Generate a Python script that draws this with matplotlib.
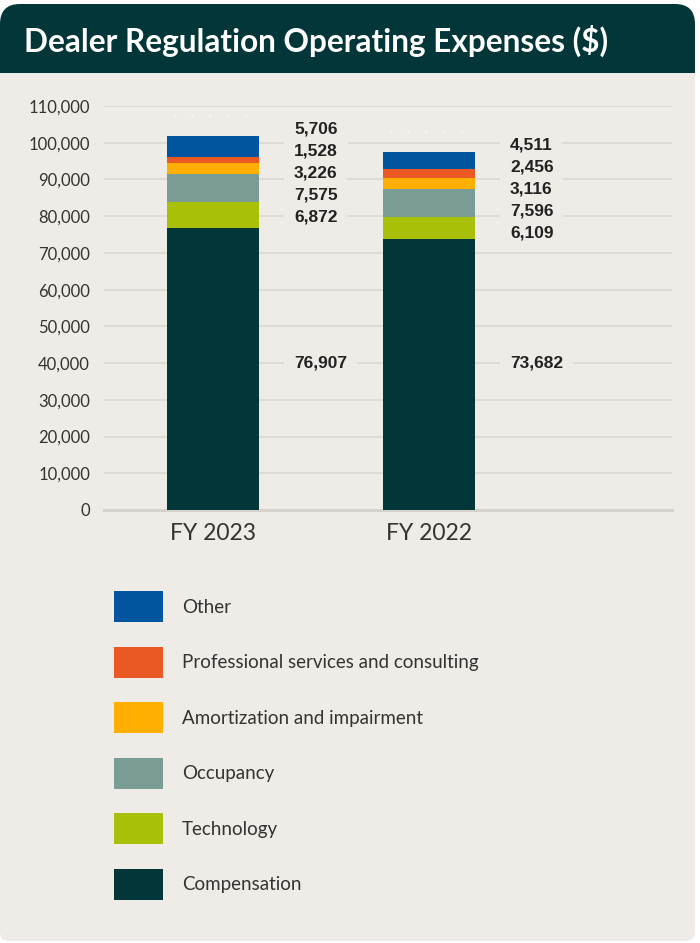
import matplotlib.pyplot as plt
import numpy as np
from matplotlib.patches import FancyBboxPatch, Rectangle, Patch
from matplotlib.ticker import FuncFormatter

# expense categories, bottom of the stack first
categories = ["Compensation", "Technology", "Occupancy",
              "Amortization and impairment", "Professional services and consulting", "Other"]
colors = ["#023638", "#A8C108", "#7A9E96", "#FFAF00", "#EA5823", "#00559E"]

years = ["FY 2023", "FY 2022"]
fy2023 = [76907, 6872, 7575, 3226, 1528, 5706]
fy2022 = [73682, 6109, 7596, 3116, 2456, 4511]

yticks = np.arange(0, 110001, 10000)

BG = "#EFECE7"
DARK = "#023638"
TXT = "#333333"
W, H = 700, 943

fig = plt.figure(figsize=(W / 100, H / 100), dpi=100, facecolor="white")

def px(x, y):
    # pixel position (from top-left) -> inches for dpi_scale_trans
    return x / 100, (H - y) / 100

# card: dark header with rounded top, light body with rounded bottom
x0, y0 = px(0, 120)
fig.patches.append(FancyBboxPatch((x0, y0), 6.95, (120 - 4) / 100,
                                  boxstyle="round,pad=0,rounding_size=0.2",
                                  transform=fig.dpi_scale_trans, fc=DARK, ec="none", zorder=-3))
x0, y0 = px(0, 941)
fig.patches.append(FancyBboxPatch((x0, y0), 6.95, (941 - 90) / 100,
                                  boxstyle="round,pad=0,rounding_size=0.09",
                                  transform=fig.dpi_scale_trans, fc=BG, ec="none", zorder=-2))
x0, y0 = px(0, 110)
fig.patches.append(Rectangle((x0, y0), 6.95, (110 - 73) / 100,
                             transform=fig.dpi_scale_trans, fc=BG, ec="none", zorder=-1))

fig.text(24 / W, 1 - 41 / H, "Dealer Regulation Operating Expenses ($)",
         color="white", fontsize=22.7, fontweight="bold", family="Lato",
         ha="left", va="center")

ax = fig.add_axes([104 / W, 1 - 510 / H, 568 / W, 404 / H])
ax.set_facecolor("none")
ax.set_xlim(-0.505, 2.125)
ax.set_ylim(0, 110000)
for s in ax.spines.values():
    s.set_visible(False)

ax.set_yticks(yticks)
ax.yaxis.set_major_formatter(FuncFormatter(lambda v, p: f"{int(v):,}"))
ax.grid(axis="y", color="#DDD9D3", lw=1.3, zorder=0)
ax.set_axisbelow(True)
ax.axhline(0, color="#D5D1CB", lw=2.2, zorder=1, clip_on=False)
ax.tick_params(length=0)
ax.tick_params(axis="y", pad=10, labelsize=12, labelcolor=TXT)
ax.tick_params(axis="x", pad=9, labelsize=16.5, labelcolor=TXT)

xpos = np.arange(len(years))
data = np.array([fy2023, fy2022])
bottoms = np.zeros(len(years))
for i, cat in enumerate(categories):
    ax.bar(xpos, data[:, i], 0.426, bottom=bottoms, color=colors[i], zorder=2)
    bottoms += data[:, i]
ax.set_xticks(xpos)
ax.set_xticklabels(years)
for lab in ax.get_yticklabels() + ax.get_xticklabels():
    lab.set_family("Lato")

# value labels: small categories stacked from the top, compensation mid-bar.
# each label is drawn twice: a background box that breaks the gridline,
# then the text itself on top so neighbouring boxes don't cut into it
lab_kw = dict(fontsize=12.5, fontweight="bold", family="Liberation Sans",
              ha="left", va="center")
box = dict(fc=BG, ec="none", pad=7)

def value_label(x, y, text, dy=0):
    kw = dict(xy=(x, y), xytext=(0, dy), textcoords="offset points", **lab_kw)
    ax.annotate(text, color=(0, 0, 0, 0), bbox=box, zorder=3, **kw)
    ax.annotate(text, color="#222222", zorder=4, **kw)

for j, vals in enumerate(data):
    total = vals.sum()
    for k, i in enumerate(range(len(categories) - 1, 0, -1)):
        value_label(xpos[j] + 0.375, total, f"{vals[i]:,}", dy=5 - 15.84 * k)
    value_label(xpos[j] + 0.375, 40000, f"{vals[0]:,}")
    ax.plot([xpos[j] - 0.18, xpos[j] + 0.18], [total + 5500] * 2, color="white",
            lw=1.5, ls=(0, (0.6, 8)), alpha=0.8, zorder=3, solid_capstyle="round")

# legend, top entry first
handles = [Patch(fc=colors[i], ec="none") for i in range(len(categories) - 1, -1, -1)]
labels = [categories[i] for i in range(len(categories) - 1, -1, -1)]
leg = fig.legend(handles, labels, loc="upper left", bbox_to_anchor=(114 / W, 1 - 591.5 / H),
                 frameon=False, handlelength=2.61, handleheight=2.13,
                 handletextpad=1.01, labelspacing=1.33, borderpad=0, borderaxespad=0,
                 prop={"family": "Lato", "size": 13.5})
for t in leg.get_texts():
    t.set_color(TXT)

fig.savefig("out.png", dpi=100, facecolor="white")
